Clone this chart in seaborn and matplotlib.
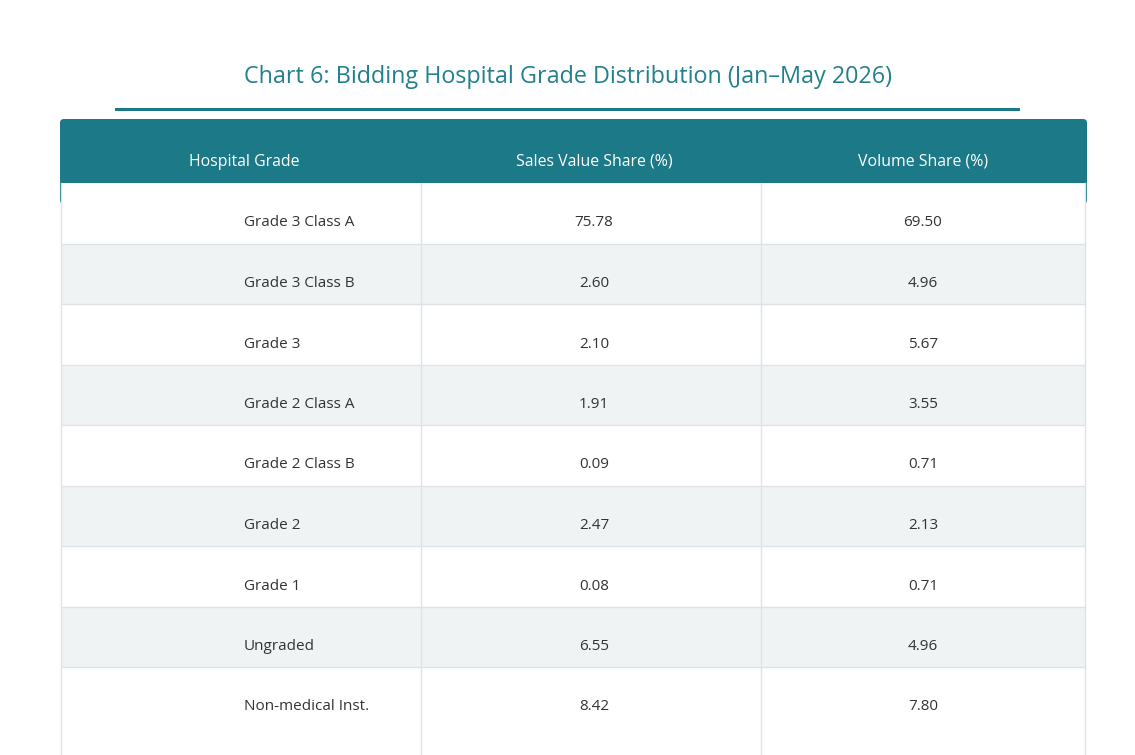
import matplotlib
matplotlib.use('Agg')
import matplotlib.pyplot as plt
import numpy as np
import pandas as pd
import seaborn as sns
from matplotlib.colors import ListedColormap
from matplotlib.patches import FancyBboxPatch, Rectangle
from matplotlib.transforms import IdentityTransform

# Data
grades = ['Grade 3 Class A', 'Grade 3 Class B', 'Grade 3', 'Grade 2 Class A',
          'Grade 2 Class B', 'Grade 2', 'Grade 1', 'Ungraded', 'Non-medical Inst.']
sales_share = [75.78, 2.60, 2.10, 1.91, 0.09, 2.47, 0.08, 6.55, 8.42]
volume_share = [69.50, 4.96, 5.67, 3.55, 0.71, 2.13, 0.71, 4.96, 7.80]
headers = ['Hospital Grade', 'Sales Value Share (%)', 'Volume Share (%)']
title = 'Chart 6: Bidding Hospital Grade Distribution (Jan\u2013May 2026)'

df = pd.DataFrame({'grade': grades, 'sales': sales_share, 'volume': volume_share})

sns.set_theme(style='white')
plt.rcParams['font.family'] = ['Open Sans', 'DejaVu Sans']

TEAL = '#1c7a88'
STRIPE = '#eff3f4'
LINE = '#dde3e6'
TXT = '#333333'

W, H = 1135, 755
fig = plt.figure(figsize=(W / 100, H / 100), dpi=100)
fig.patch.set_facecolor('white')

def px(x, y):
    # image pixel (top-left origin) -> display coords
    return x, H - y

# title + underline
fig.text(568 / W, 1 - 77 / H, title, ha='center', va='center',
         fontsize=16.8, color='#23808d')
fig.add_artist(Rectangle(px(115, 111), 905, 3, transform=IdentityTransform(),
                         facecolor=TEAL, edgecolor='none'))

# header block with rounded top
hx0, hx1, hy0, hy1 = 60, 1087, 119, 204
fig.add_artist(FancyBboxPatch(px(hx0, hy1), hx1 - hx0, hy1 - hy0,
                              boxstyle='round,pad=0,rounding_size=4',
                              transform=IdentityTransform(),
                              facecolor=TEAL, edgecolor='none', zorder=0.5))

col_x = [244, 594, 923]
for hx, h in zip(col_x, headers):
    fig.text(hx / W, 1 - 162 / H, h, ha='center', va='center',
             fontsize=11.4, color='white', zorder=2)

# body
bx0, bx1, by0, by1 = 61, 1085, 183, 755
ax = fig.add_axes([bx0 / W, 1 - by1 / H, (bx1 - bx0) / W, (by1 - by0) / H])
ax.set_zorder(1)

stripes = np.array([[i % 2] for i in range(len(grades))])
sns.heatmap(stripes, cmap=ListedColormap(['white', STRIPE]), cbar=False,
            ax=ax, xticklabels=False, yticklabels=False, vmin=0, vmax=1)

row_h = 60.5
n_vis = (by1 - by0) / row_h
ax.set_xlim(0, 1)
ax.set_ylim(n_vis, 0)

for i in range(1, len(grades)):
    ax.axhline(i, color=LINE, lw=1)
for x in [(421 - bx0) / (bx1 - bx0), (761 - bx0) / (bx1 - bx0)]:
    ax.axvline(x, color=LINE, lw=1)

cx = [(c - bx0) / (bx1 - bx0) for c in col_x]
off = 40 / row_h
for i, row in df.iterrows():
    ax.text(cx[0], i + off, row['grade'], ha='left', va='center',
            fontsize=11, color=TXT)
    ax.text(cx[1], i + off, f"{row['sales']:.2f}", ha='center', va='center',
            fontsize=11, color=TXT)
    ax.text(cx[2], i + off, f"{row['volume']:.2f}", ha='center', va='center',
            fontsize=11, color=TXT)

for s in ['top', 'bottom']:
    ax.spines[s].set_visible(False)
for s in ['left', 'right']:
    ax.spines[s].set_visible(True)
    ax.spines[s].set_color(LINE)
    ax.spines[s].set_linewidth(1)

fig.savefig('out.png', dpi=100)
